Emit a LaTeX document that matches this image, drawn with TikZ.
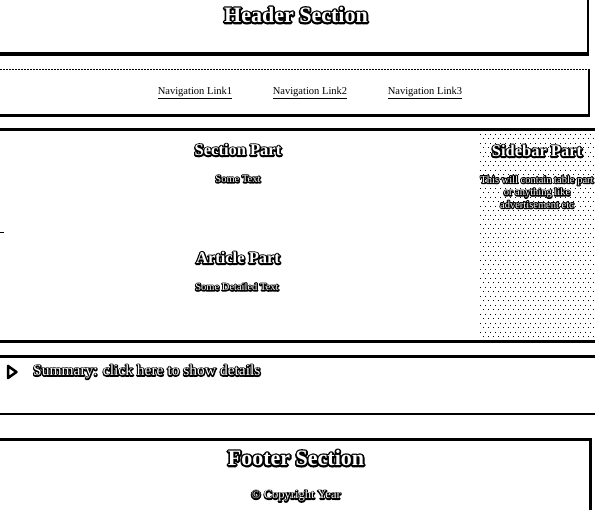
\documentclass[tikz,border=0pt]{standalone}
\usepackage{fontspec}
\setmainfont{Liberation Serif}
% white text on a black halo: a black stroked copy (PDF text render mode 2) under a white copy
\newcommand\halotext[6][center]{% [anchor] name, coord, style, stroke width, text
  \node[#4,anchor=#1] at (#3) {\special{pdf:literal 2 Tr #5 w 1 j 0 G 0 g}#6\special{pdf:literal 0 Tr 0 g 0 G}};
  \node[#4,anchor=#1,text=white] (#2) at (#3) {#6};}
\tikzset{
  heavy/.style={line width=3pt},
  medium/.style={line width=2.5pt},
  light/.style={line width=1.5pt},
  txt/.style={inner sep=0pt},
  navlink/.style={txt,font=\fontsize{10.5}{12}\selectfont},
  bigtitle/.style={txt,font=\fontsize{22}{26}\selectfont\bfseries},
  midtitle/.style={txt,font=\fontsize{16.5}{19}\selectfont\bfseries},
  smalltxt/.style={txt,font=\fontsize{10.5}{12.5}\selectfont,align=center},
  sumtxt/.style={txt,font=\fontsize{15.5}{18}\selectfont},
  copytxt/.style={txt,font=\fontsize{12.5}{14}\selectfont},
}
\begin{document}
\begin{tikzpicture}[x=1pt,y=-1pt]
\useasboundingbox[fill=white] (0,0) rectangle (595,510);
% sidebar dotted background
\foreach \j in {0,...,45}{%
  \foreach \i in {0,...,23}{%
    \pgfmathsetmacro\xx{480+5*\i+2.5*mod(\j,2)}
    \pgfmathsetmacro\yy{134+4.5*\j}
    \fill[black] (\xx,\yy) rectangle ++(1,1);}}
% header
\draw[line width=2pt] (588,0) -- (588,55.5);
\draw[line width=3.5pt] (0,54) -- (589,54);
% nav
\draw[light,dash pattern=on 2pt off 1pt] (0,69.5) -- (590,69.5);
\draw[light] (589,69) -- (589,116);
\draw[medium] (0,115.5) -- (590,115.5);
% main
\draw[heavy] (0,129.5) -- (595,129.5);
\draw[heavy] (0,341.5) -- (595,341.5);
\draw[line width=1pt] (0,233) -- (4,233);
% details
\draw[heavy] (0,356.5) -- (595,356.5);
\draw[medium] (0,414) -- (595,414);
% footer
\draw[heavy] (0,439.5) -- (591.5,439.5);
\draw[heavy] (590,438) -- (590,510);
% texts
\halotext{head}{296,15}{bigtitle}{3.6}{Header Section}
\node[navlink] (n1) at (195,93) {\underline{Navigation Link1}};
\node[navlink] (n2) at (310,93) {\underline{Navigation Link2}};
\node[navlink] (n3) at (425,93) {\underline{Navigation Link3}};
\halotext{sec}{238,150}{midtitle}{3}{Section Part}
\halotext{st}{238,179}{smalltxt}{2.2}{Some Text}
\halotext{art}{238,258}{midtitle}{3}{Article Part}
\halotext{sdt}{237,287}{smalltxt}{2.2}{Some Detailed Text}
\halotext{side}{537,151}{midtitle}{3}{Sidebar Part}
\halotext{sidetxt}{537,192}{smalltxt}{2.2}{This will contain table part\\or anything like\\advertisement etc}
\draw[line width=2.5pt,fill=white,line join=round] (8,366) -- (8,378) -- (16.5,372) -- cycle;
\halotext[west]{sum}{33,372}{sumtxt}{2.4}{Summary: click here to show details}
\halotext{foot}{296,458}{bigtitle}{3.6}{Footer Section}
\halotext{copy}{296,496}{copytxt}{2.2}{© Copyright Year}
\end{tikzpicture}
\end{document}
